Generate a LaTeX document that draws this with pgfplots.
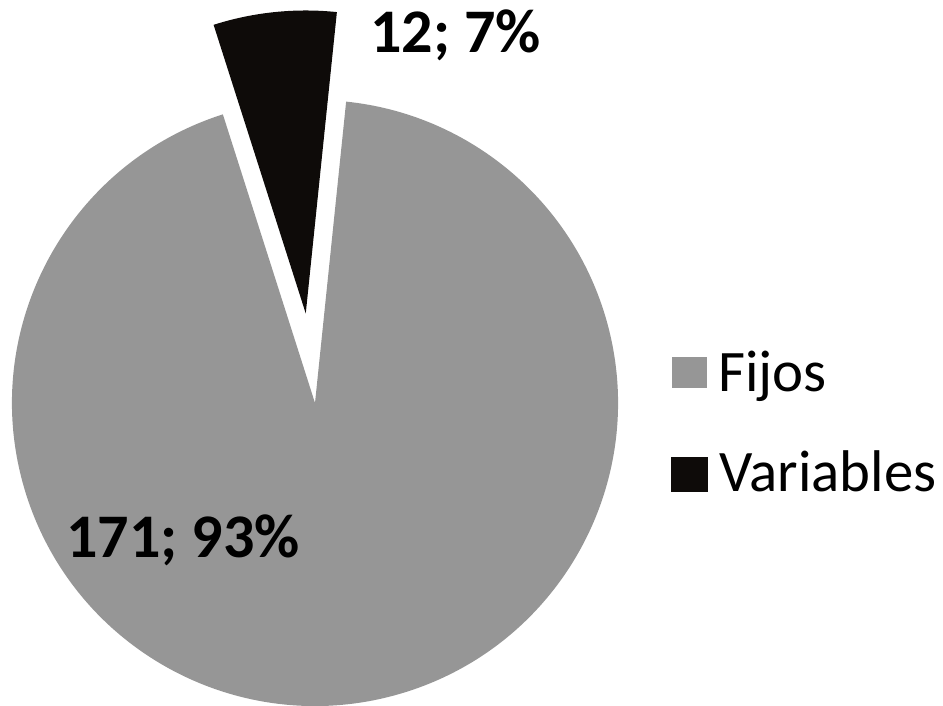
\documentclass[border=0pt]{standalone}
\usepackage{pgfplots}
\pgfplotsset{compat=1.18}
\usepackage{fontspec}
\setmainfont{Carlito}
\definecolor{fijos}{RGB}{150,150,150}
\definecolor{variab}{RGB}{14,11,9}

% values of the two slices
\def\vFijos{171}
\def\vVar{12}
% geometry (axis units = reference pixels, y up)
\pgfmathsetmacro{\total}{\vFijos+\vVar}
\pgfmathsetmacro{\aStart}{84.1}
\pgfmathsetmacro{\aMid}{\aStart+\vVar/\total*360}
\pgfmathsetmacro{\aEnd}{\aStart+360}
\pgfmathsetmacro{\aHalf}{\aStart+\vVar/\total*180}
\pgfmathsetmacro{\dx}{90*cos(\aHalf)}
\pgfmathsetmacro{\dy}{90*sin(\aHalf)}
\pgfmathsetmacro{\cxV}{315+\dx}
\pgfmathsetmacro{\cyV}{303+\dy}
\def\rad{151.5pt}

\begin{document}
\begin{tikzpicture}
\begin{axis}[
  name=ax,
  width=471.5pt, height=353pt, scale only axis,
  xmin=0, xmax=943, ymin=0, ymax=706,
  axis lines=none,
  ]
  % Fijos
  \fill[fijos] (axis cs:315,303) -- ++(\aMid:\rad)
    arc[start angle=\aMid, end angle=\aEnd, radius=\rad] -- cycle;
  % Variables (exploded)
  \fill[variab] (axis cs:\cxV,\cyV) -- ++(\aStart:\rad)
    arc[start angle=\aStart, end angle=\aMid, radius=\rad] -- cycle;

  % data labels
  \node[anchor=base west, inner sep=0pt, font=\fontsize{31}{36}\selectfont\bfseries]
    at (axis cs:370,653) {12; 7\%};
  \node[anchor=base west, inner sep=0pt, font=\fontsize{31}{36}\selectfont\bfseries]
    at (axis cs:66,148) {171; 93\%};

  % legend
  \fill[fijos] (axis cs:672,318) rectangle (axis cs:707,349);
  \fill[variab] (axis cs:671,214) rectangle (axis cs:708,249);
  \node[anchor=base west, inner sep=0pt, font=\fontsize{29.4}{34}\selectfont]
    at (axis cs:718,314) {Fijos};
  \node[anchor=base west, inner sep=0pt, font=\fontsize{29.4}{34}\selectfont]
    at (axis cs:719,214) {Variables};
\end{axis}
\path (ax.south west) rectangle (ax.north east);
\end{tikzpicture}
\end{document}
